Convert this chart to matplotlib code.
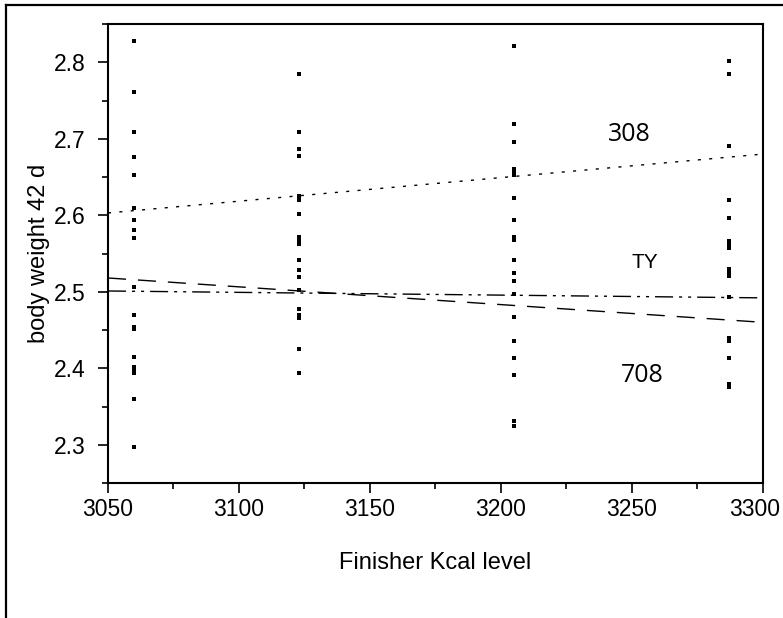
import matplotlib
matplotlib.use("Agg")
import matplotlib.pyplot as plt
from matplotlib.lines import Line2D
from matplotlib.ticker import MultipleLocator
from matplotlib.transforms import ScaledTranslation

# ---- data ----
kcal_levels = [3060, 3123, 3205, 3287]
bw_3060 = [2.828, 2.761, 2.709, 2.676, 2.652, 2.610, 2.594, 2.581, 2.570, 2.506,
           2.469, 2.454, 2.451, 2.415, 2.402, 2.399, 2.394, 2.360, 2.297]
bw_3123 = [2.785, 2.709, 2.686, 2.677, 2.625, 2.620, 2.602, 2.571, 2.568, 2.565,
           2.562, 2.542, 2.529, 2.519, 2.502, 2.478, 2.469, 2.466, 2.425, 2.394]
bw_3205 = [2.821, 2.719, 2.696, 2.660, 2.655, 2.652, 2.623, 2.594, 2.572, 2.568,
           2.542, 2.525, 2.514, 2.497, 2.467, 2.436, 2.413, 2.391, 2.331, 2.324]
bw_3287 = [2.802, 2.785, 2.691, 2.620, 2.597, 2.566, 2.563, 2.560, 2.557, 2.530,
           2.527, 2.524, 2.521, 2.493, 2.439, 2.435, 2.413, 2.380, 2.376]
columns = [bw_3060, bw_3123, bw_3205, bw_3287]

fit_x = [3050, 3300]
fit_308 = [2.603, 2.680]
fit_708 = [2.518, 2.460]
fit_TY = [2.501, 2.492]

labels = ["308", "TY", "708"]
label_x = [3249, 3255, 3254]
label_y = [2.705, 2.538, 2.391]

x_ticks = [3050, 3100, 3150, 3200, 3250, 3300]
y_ticks = [2.3, 2.4, 2.5, 2.6, 2.7, 2.8]

# ---- figure ----
W, H = 783, 618
fig = plt.figure(figsize=(W / 100, H / 100), dpi=100)
ax = fig.add_axes([108 / W, 1 - 483 / H, (763 - 108) / W, (483 - 24) / H])

for xv, col in zip(kcal_levels, columns):
    ax.plot([xv] * len(col), col, linestyle="none", marker="s",
            markersize=2.5, markeredgewidth=0, color="black")

ax.plot(fit_x, fit_308, color="black", lw=1.0, linestyle=(0, (2.2, 6.0)))
ax.plot(fit_x, fit_708, color="black", lw=1.0, linestyle=(0, (13, 8.6)))
ax.plot(fit_x, fit_TY, color="black", lw=1.0,
        linestyle=(0, (13, 4.3, 2.2, 4.3, 2.2, 4.3)))

tick_font = ["Liberation Sans", "DejaVu Sans"]
num_font = ["Open Sans", "DejaVu Sans"]
label_fonts = [num_font, tick_font, num_font]
label_sizes = [18, 15, 18]
for t, lx, ly, fs, ff in zip(labels, label_x, label_y, label_sizes, label_fonts):
    ax.text(lx, ly, t, ha="center", va="center", fontsize=fs, family=ff)

ax.set_xlim(3050, 3300)
ax.set_ylim(2.25, 2.85)
ax.set_xticks(x_ticks)
ax.set_yticks(y_ticks)
ax.set_xticklabels([str(v) for v in x_ticks])
ax.set_yticklabels([f"{v:.1f}" for v in y_ticks])
ax.xaxis.set_minor_locator(MultipleLocator(25))
ax.yaxis.set_minor_locator(MultipleLocator(0.05))

ax.tick_params(which="major", direction="out", length=7, width=1.2,
               labelsize=16.5, pad=4)
ax.tick_params(axis="y", which="major", pad=9)
ax.tick_params(which="minor", direction="out", length=4.5, width=1.2)
for lab in ax.get_xticklabels() + ax.get_yticklabels():
    lab.set_family(tick_font)
for sp in ax.spines.values():
    sp.set_linewidth(1.5)

# keep the last x tick label inside the picture
last = ax.get_xticklabels()[-1]
last.set_horizontalalignment("right")
last.set_transform(last.get_transform() +
                   ScaledTranslation(0.17, 0, fig.dpi_scale_trans))

ax.set_xlabel("Finisher Kcal level", fontsize=17, family=tick_font, labelpad=22)
ax.set_ylabel("body weight 42 d", fontsize=17, family=tick_font, labelpad=3)

# outer frame (left & top edges)
fx = 6 / W
fy = 1 - 5 / H
fig.add_artist(Line2D([fx, fx], [0, fy], color="black", lw=1.6,
                      transform=fig.transFigure))
fig.add_artist(Line2D([fx, 1], [fy, fy], color="black", lw=1.6,
                      transform=fig.transFigure))

fig.savefig("out.png", dpi=100)
